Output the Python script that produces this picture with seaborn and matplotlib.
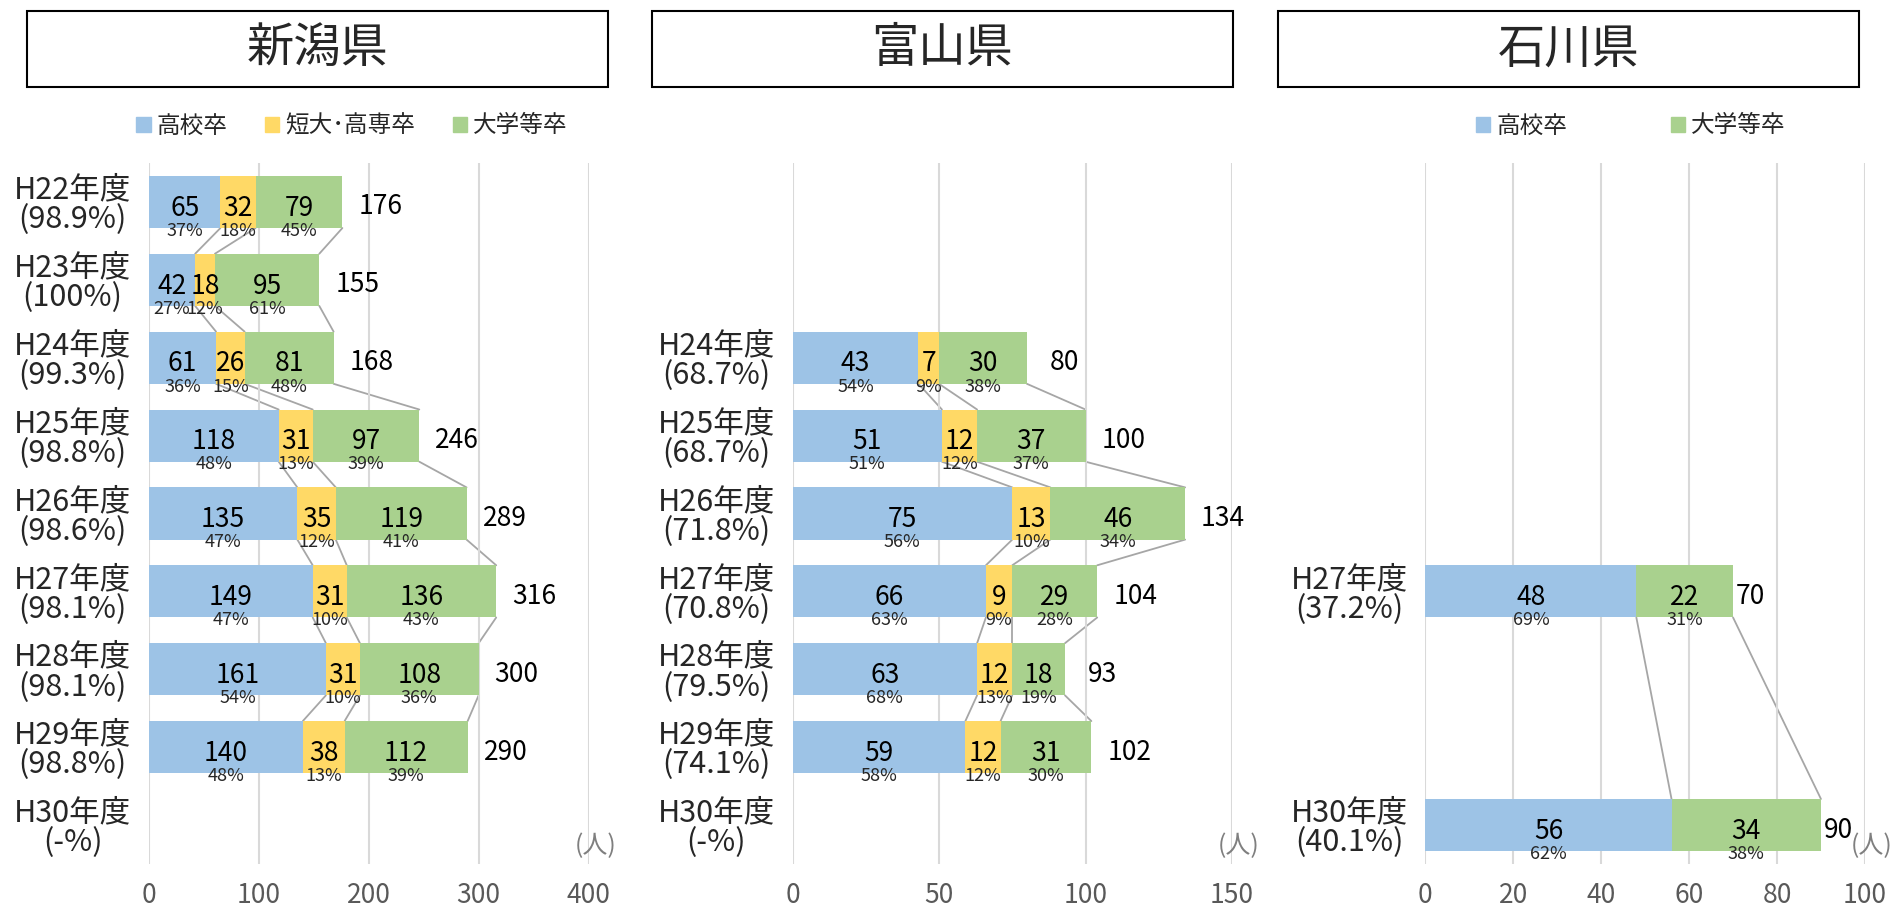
import numpy as np
import pandas as pd
import matplotlib.pyplot as plt
import seaborn as sns
from matplotlib.patches import Patch, Rectangle

# --- data ---
nan = np.nan
years = ['H22年度', 'H23年度', 'H24年度', 'H25年度', 'H26年度', 'H27年度', 'H28年度', 'H29年度', 'H30年度']
series = ['高校卒', '短大･高専卒', '大学等卒']
prefectures = ['新潟県', '富山県', '石川県']

niigata_rate = ['98.9%', '100%', '99.3%', '98.8%', '98.6%', '98.1%', '98.1%', '98.8%', '-%']
niigata_hs = [65, 42, 61, 118, 135, 149, 161, 140, nan]
niigata_jc = [32, 18, 26, 31, 35, 31, 31, 38, nan]
niigata_univ = [79, 95, 81, 97, 119, 136, 108, 112, nan]

toyama_rate = [None, None, '68.7%', '68.7%', '71.8%', '70.8%', '79.5%', '74.1%', '-%']
toyama_hs = [nan, nan, 43, 51, 75, 66, 63, 59, nan]
toyama_jc = [nan, nan, 7, 12, 13, 9, 12, 12, nan]
toyama_univ = [nan, nan, 30, 37, 46, 29, 18, 31, nan]

ishikawa_rate = [None, None, None, None, None, '37.2%', None, None, '40.1%']
ishikawa_hs = [nan, nan, nan, nan, nan, 48, nan, nan, 56]
ishikawa_jc = [nan] * 9
ishikawa_univ = [nan, nan, nan, nan, nan, 22, nan, nan, 34]

# --- style ---
BLUE, YELLOW, GREEN = '#9DC3E6', '#FFD966', '#A9D18E'
BAR_H = 0.67
W, H = 1894, 910

sns.set_theme(style='white')
plt.rcParams['font.family'] = ['Noto Sans CJK JP', 'DejaVu Sans']

fig = plt.figure(figsize=(W / 100, H / 100), dpi=100)


def draw_panel(ax, rates, hs, jc, univ, xmax, step, total_off):
    df = pd.DataFrame({'year': years, 'hs': hs, 'jc': jc, 'univ': univ})
    parts = df[['hs', 'jc', 'univ']].fillna(0)
    has = df['hs'].notna()
    df['c1'] = parts['hs'].where(has)
    df['c2'] = (parts['hs'] + parts['jc']).where(has)
    df['total'] = parts.sum(axis=1).where(has)

    # stacked bars drawn back to front
    for col, color in [('total', GREEN), ('c2', YELLOW), ('c1', BLUE)]:
        sns.barplot(data=df, x=col, y='year', order=years, color=color, width=BAR_H,
                    saturation=1, errorbar=None, orient='h', linewidth=0, ax=ax)

    # connector lines between consecutive bars
    idx = df.index[has].tolist()
    bounds = ['c1', 'total'] if df['jc'].isna().all() else ['c1', 'c2', 'total']
    for a, b in zip(idx[:-1], idx[1:]):
        for col in bounds:
            ax.plot([df.at[a, col], df.at[b, col]], [a + BAR_H / 2, b - BAR_H / 2],
                    color='#A6A6A6', lw=1.3, zorder=0.5)

    # value / share / total labels
    for i in idx:
        total = df.at[i, 'total']
        left = 0
        for col in ['hs', 'jc', 'univ']:
            v = df.at[i, col]
            if np.isnan(v):
                continue
            mid = left + v / 2
            ax.text(mid, i + 0.08, f'{v:.0f}', ha='center', va='center', fontsize=19, color='black')
            ax.text(mid, i + 0.37, f'{v / total * 100:.0f}%', ha='center', va='center',
                    fontsize=13, color='#262626')
            left += v
        ax.annotate(f'{total:.0f}', (total, i), xytext=(total_off, -5), textcoords='offset pixels',
                    ha='center', va='center', fontsize=19, color='black')

    labels = [f'{y}\n({r})' if r else '' for y, r in zip(years, rates)]
    ax.set_yticks(range(len(years)))
    ax.set_yticklabels(labels, ha='center', multialignment='center', linespacing=0.95, fontsize=22)
    ax.tick_params(axis='y', length=0, pad=55)
    ax.set_ylim(len(years) - 0.5, -0.5)

    ax.set_xlim(0, xmax)
    ax.set_xticks(np.arange(0, xmax + 1, step))
    ax.tick_params(axis='x', length=0, pad=13, labelsize=19, labelcolor='#595959')
    ax.grid(axis='x', color='#D9D9D9', lw=1.5)
    ax.set_axisbelow(True)
    ax.set_xlabel('')
    ax.set_ylabel('')
    sns.despine(ax=ax, left=True, bottom=True)
    ax.text(1.016, 0.026, '(人)', transform=ax.transAxes, ha='center', va='center',
            fontsize=18, color='#7F7F7F')


panel_left = [149, 792.5, 1425.4]
panel_w = 439.5
ax_bottom, ax_top = 864, 163
box_left = [27, 652, 1278]
box_w = 581
box_top, box_bottom = 11, 87

panels = [
    (niigata_rate, niigata_hs, niigata_jc, niigata_univ, 400, 100, 38),
    (toyama_rate, toyama_hs, toyama_jc, toyama_univ, 150, 50, 38),
    (ishikawa_rate, ishikawa_hs, ishikawa_jc, ishikawa_univ, 100, 20, 17),
]

axes = []
for k, p in enumerate(panels):
    ax = fig.add_axes([panel_left[k] / W, 1 - ax_bottom / H, panel_w / W, (ax_bottom - ax_top) / H])
    draw_panel(ax, *p)
    axes.append(ax)

    # title box
    x0, y0 = box_left[k] / W, 1 - box_bottom / H
    bw, bh = box_w / W, (box_bottom - box_top) / H
    fig.add_artist(Rectangle((x0, y0), bw, bh, transform=fig.transFigure, fill=False,
                             ec='black', lw=1.5))
    fig.text(x0 + bw / 2, y0 + bh / 2, prefectures[k], ha='center', va='center', fontsize=34)

# legends (Niigata: three series, Ishikawa: two)
leg_y = 1 - 126 / H
h3 = [Patch(color=c) for c in (BLUE, YELLOW, GREEN)]
axes[0].legend(h3, series, loc='center', bbox_to_anchor=(352 / W, leg_y), bbox_transform=fig.transFigure,
               ncol=3, frameon=False, handlelength=0.6, handleheight=0.6, handletextpad=0.25,
               columnspacing=1.6, fontsize=17)
axes[2].legend([h3[0], h3[2]], [series[0], series[2]], loc='center', bbox_to_anchor=(1631 / W, leg_y),
               bbox_transform=fig.transFigure, ncol=2, frameon=False, handlelength=0.6,
               handleheight=0.6, handletextpad=0.25, columnspacing=4.4, fontsize=17)

fig.savefig('out.png', dpi=100, facecolor='white')
